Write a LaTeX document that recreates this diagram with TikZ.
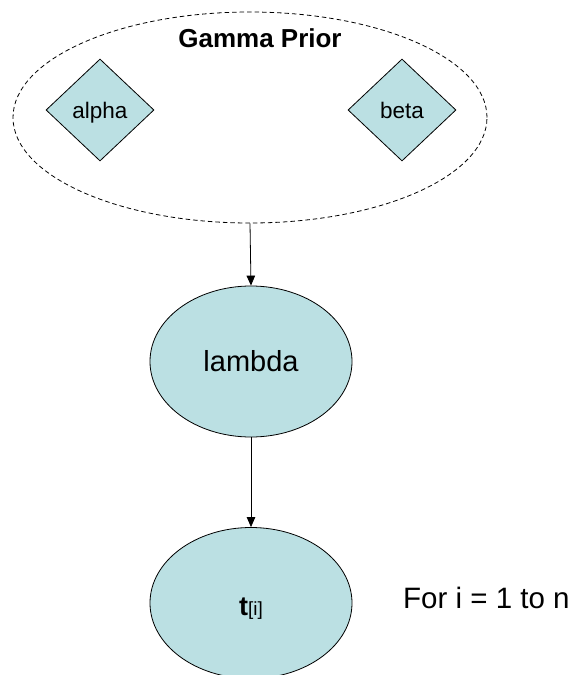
\documentclass[tikz,border=0pt]{standalone}
\usepackage{fontspec}
\setmainfont{Liberation Sans}
\usetikzlibrary{shapes.geometric,arrows.meta}
\definecolor{nodefill}{RGB}{187,224,227}
\tikzset{
  var/.style={ellipse,draw=black,fill=nodefill,line width=0.8pt,minimum width=202pt,minimum height=151pt,inner sep=0pt,font=\fontsize{29}{29}\selectfont},
  hyper/.style={diamond,draw=black,fill=nodefill,line width=0.8pt,minimum width=108pt,minimum height=102pt,inner sep=0pt,text depth=0pt,font=\fontsize{22.5}{22.5}\selectfont},
  group/.style={ellipse,draw=black,dash pattern=on 4.5pt off 3pt,line width=0.8pt,minimum width=474pt,minimum height=211pt,inner sep=0pt},
  link/.style={-{Triangle[length=10pt,width=8.5pt]},line width=0.8pt}
}
\begin{document}
\begin{tikzpicture}[x=1pt,y=-1pt]
\useasboundingbox (0,0) rectangle (573,675);
\node[group] (prior) at (250,117.5) {};
\node[anchor=base,font=\fontsize{26}{26}\selectfont\bfseries] (title) at (260,47) {Gamma Prior};
\node[hyper] (alpha) at (100,110) {alpha};
\node[hyper] (beta) at (402,110) {beta};
\node[var] (lambda) at (251,361.5) {lambda};
\node[var] (t) at (251,603) {};
\node[anchor=base,font=\fontsize{27}{27}\selectfont] (tlabel) at (251,615) {\textbf{t}{\fontsize{19}{19}\selectfont[i]}};
\node[anchor=base west,font=\fontsize{29.5}{29.5}\selectfont,inner sep=0pt] (loop) at (403,608) {For i = 1 to n};
\draw[link] (prior.south) -- (lambda.north);
\draw[link] (lambda.south) -- (t.north);
\end{tikzpicture}
\end{document}
